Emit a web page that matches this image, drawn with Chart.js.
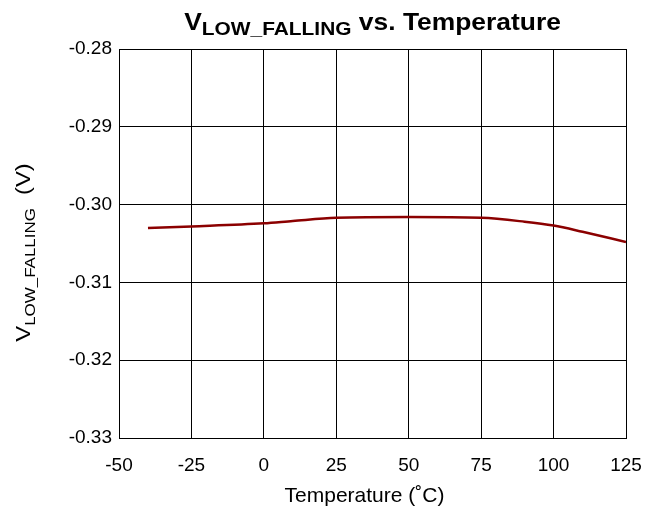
<!DOCTYPE html>
<html>
<head>
<meta charset="utf-8">
<script src="https://cdn.jsdelivr.net/npm/chart.js@4.4.0/dist/chart.umd.min.js"></script>
<style>
  body { margin: 0; background: #fff; }
  #wrap { width: 662px; height: 512px; }
</style>
</head>
<body>
<div id="wrap"><canvas id="vlowChart" width="662" height="512"></canvas></div>
<script>
// Temperature sweep (°C) and measured V_LOW_FALLING (V)
var temps = [-40, -25, 0, 10, 25, 50, 75, 90, 100, 110, 125];
var vlowFalling = [-0.3030, -0.3028, -0.3024, -0.3021, -0.3017, -0.3016, -0.3017, -0.3022, -0.3027, -0.3035, -0.3048];

var xTicks = [-50, -25, 0, 25, 50, 75, 100, 125];
var yTicks = [-0.33, -0.32, -0.31, -0.30, -0.29, -0.28];

var FONT = "'Liberation Sans', Arial, sans-serif";

// draws a run of text pieces (with subscripts) starting at x, stretched horizontally by hs
function drawRuns(ctx, runs, x, y, hs) {
  ctx.save();
  ctx.translate(x, y);
  ctx.scale(hs, 1);
  var cx = 0;
  runs.forEach(function (r) {
    ctx.font = r.font;
    ctx.fillText(r.text, cx, r.dy || 0);
    cx += ctx.measureText(r.text).width;
  });
  ctx.restore();
}

function runsWidth(ctx, runs, hs) {
  var w = 0;
  runs.forEach(function (r) {
    ctx.font = r.font;
    w += ctx.measureText(r.text).width;
  });
  return w * hs;
}

var titlePlugin = {
  id: 'titles',
  afterDraw: function (chart) {
    var ctx = chart.ctx;
    var area = chart.chartArea;
    var midX = (area.left + area.right) / 2;
    var midY = (area.top + area.bottom) / 2;
    ctx.save();
    ctx.fillStyle = '#000';
    ctx.textBaseline = 'alphabetic';
    ctx.textAlign = 'left';

    // chart title
    var title = [
      { text: 'V', font: 'bold 24px ' + FONT },
      { text: 'LOW_FALLING', font: 'bold 19px ' + FONT, dy: 5 },
      { text: ' vs. Temperature', font: 'bold 24px ' + FONT }
    ];
    var hs = 1.1;
    var tw = runsWidth(ctx, title, hs);
    drawRuns(ctx, title, midX - tw / 2, 30, hs);

    // y axis title, rotated
    var ytitle = [
      { text: 'V', font: '21px ' + FONT },
      { text: 'LOW_FALLING', font: '15px ' + FONT, dy: 5 },
      { text: '  (V)', font: '21px ' + FONT }
    ];
    var ys = 1.13;
    var yw = runsWidth(ctx, ytitle, ys);
    ctx.save();
    ctx.translate(30, midY + yw / 2 + 9);
    ctx.rotate(-Math.PI / 2);
    drawRuns(ctx, ytitle, 0, 0, ys);
    ctx.restore();

    // x axis title
    ctx.font = '21px ' + FONT;
    ctx.textAlign = 'center';
    ctx.fillText('Temperature (\u02DAC)', midX - 8, 502);
    ctx.restore();
  }
};

var ctx = document.getElementById('vlowChart').getContext('2d');
var chart = new Chart(ctx, {
  type: 'line',
  data: {
    datasets: [{
      label: 'VLOW_FALLING',
      data: temps.map(function (t, i) { return { x: t, y: vlowFalling[i] }; }),
      borderColor: '#8b0000',
      borderWidth: 2.5,
      pointRadius: 0,
      fill: false,
      cubicInterpolationMode: 'monotone'
    }]
  },
  options: {
    responsive: false,
    animation: false,
    layout: { padding: { top: 49, right: 36, left: 0, bottom: 0 } },
    plugins: {
      legend: { display: false },
      tooltip: { enabled: false }
    },
    scales: {
      x: {
        type: 'linear',
        min: -50,
        max: 125,
        afterBuildTicks: function (axis) {
          axis.ticks = xTicks.map(function (v) { return { value: v }; });
        },
        afterFit: function (scale) { scale.height = 74; },
        grid: { color: '#000', lineWidth: 1, drawTicks: false },
        border: { color: '#000', width: 1 },
        ticks: {
          color: '#000',
          padding: 16,
          maxRotation: 0,
          font: { family: FONT, size: 19 }
        }
      },
      y: {
        min: -0.33,
        max: -0.28,
        afterBuildTicks: function (axis) {
          axis.ticks = yTicks.map(function (v) { return { value: v }; });
        },
        afterFit: function (scale) { scale.width = 119; },
        grid: { color: '#000', lineWidth: 1, drawTicks: false },
        border: { color: '#000', width: 1 },
        ticks: {
          color: '#000',
          padding: 7,
          font: { family: FONT, size: 19 },
          callback: function (v) { return v.toFixed(2); }
        }
      }
    }
  },
  plugins: [titlePlugin]
});
</script>
</body>
</html>
